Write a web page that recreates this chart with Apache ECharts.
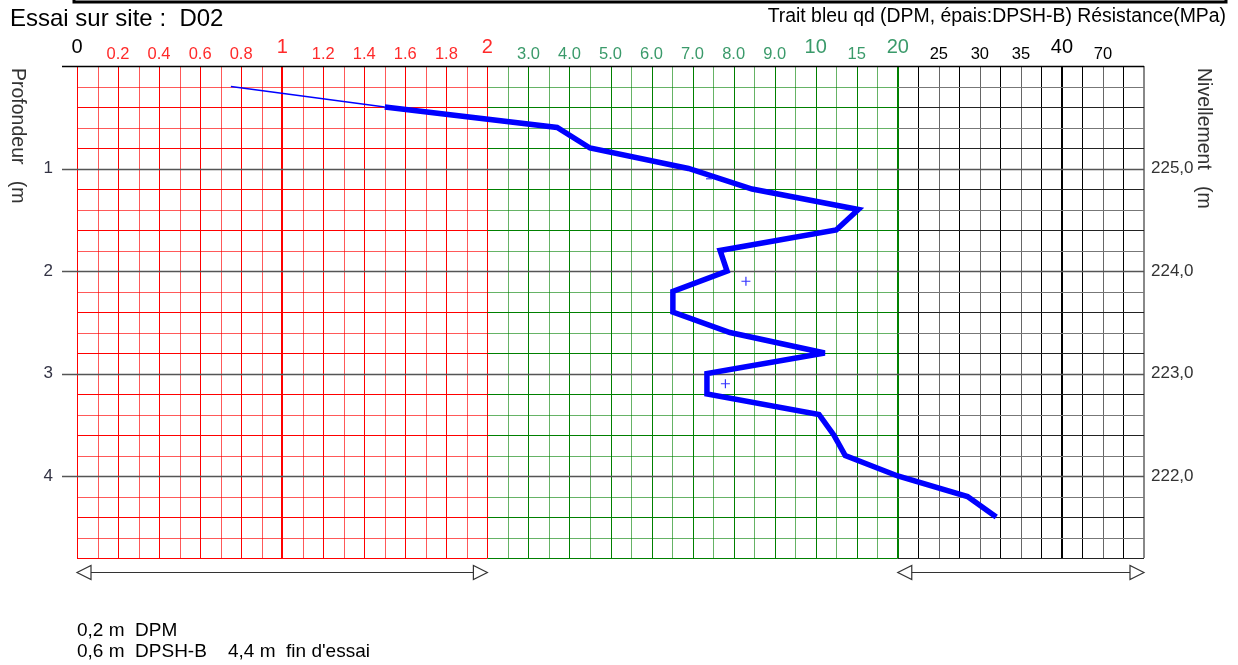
<!DOCTYPE html>
<html><head><meta charset="utf-8">
<script src="https://cdn.jsdelivr.net/npm/echarts@6/dist/echarts.min.js"></script>
<style>html,body{margin:0;padding:0;background:#fff}#c{width:1238px;height:665px}</style>
</head><body><div id="c"></div>
<script>
// ---------- DATA ----------
const depths = [0.2,0.4,0.6,0.8,1.0,1.2,1.4,1.6,1.8,2.0,2.2,2.4,2.6,2.8,3.0,3.2,3.4,3.6,3.8,4.0,4.2,4.4];
const resistance = [0.75,1.5,3.7,4.5,6.9,8.45,15.2,12.5,7.67,7.84,6.52,6.52,7.91,11.1,7.35,7.35,10.4,12.2,13.6,20,28.5,32];
const dpmEndDepth = 0.4;           // thin line (DPM) up to this depth
const markDepths = [1.1, 2.1, 3.1];
const markValues = [7.4, 8.3, 7.8];
const markKinds = ['-', '+', '+'];
const tickValues = [0,0.2,0.4,0.6,0.8,1,1.2,1.4,1.6,1.8,2,3,4,5,6,7,8,9,10,15,20,25,30,35,40,70];
const tickLabels = ['0','0.2','0.4','0.6','0.8','1','1.2','1.4','1.6','1.8','2','3.0','4.0','5.0','6.0','7.0','8.0','9.0','10','15','20','25','30','35','40','70'];
const majorLabels = ['0','1','2','10','20','40'];
const depthTicks = [1,2,3,4];
const groundLevel = 226.0;
const titleText = 'Essai sur site :  D02';
const legendText = 'Trait bleu qd (DPM, épais:DPSH-B) Résistance(MPa)';
const noteLines = ['0,2 m  DPM', '0,6 m  DPSH-B    4,4 m  fin d\'essai'];

// ---------- SCALE (piecewise penetrometer scale -> grid cell units) ----------
function u(v){
  if (v <= 2) return v*10;
  if (v <= 10) return 20 + (v-2)*2;
  if (v <= 20) return 36 + (v-10)/5*2;
  if (v <= 40) return 40 + (v-20)/5*2;
  return 48 + (v-40)/30*2;
}
const UMAX = 52, DMAX = 4.8;
const FONT = '"Liberation Sans", Arial, sans-serif';

function labelAt(val){
  for (let i=0;i<tickValues.length;i++) if (Math.abs(u(tickValues[i])-val) < 1e-6) return tickLabels[i];
  return '';
}
function labelColor(val){
  if (val < 0.5) return '#000';
  if (val <= 20.01) return '#ff2a2a';
  if (val <= 40.01) return '#3a9a6a';
  return '#000';
}

const thinData = [], thickData = [];
depths.forEach((d,i)=>{
  if (d <= dpmEndDepth + 1e-9) thinData.push([u(resistance[i]), d]);
  if (d >= dpmEndDepth - 1e-9) thickData.push([u(resistance[i]), d]);
});
const plusData = [], dashData = [];
markDepths.forEach((d,i)=>{
  (markKinds[i]==='+' ? plusData : dashData).push([u(markValues[i]), d]);
});

function crisp(x, w){ return (w % 2 === 1) ? Math.round(x) + 0.5 : Math.round(x); }

function gridRender(params, api){
  const ch = [];
  const X = (uu)=>api.coord([uu,0])[0];
  const Y = (d)=>api.coord([0,d])[1];
  const y0 = Y(0), y1 = Y(DMAX), x0 = X(0), x1 = X(UMAX);
  function L(xa,ya,xb,yb,color,w){
    ch.push({type:'line', shape:{x1:xa,y1:ya,x2:xb,y2:yb}, style:{stroke:color, lineWidth:w}});
  }
  // verticals
  for (let k=0;k<=UMAX;k++){
    let color, w = 1;
    const alt = k % 2 === 1;
    if (k <= 20) color = alt ? 'rgba(255,0,0,0.65)' : '#ff0000';
    else if (k < 40) color = alt ? 'rgba(0,128,0,0.6)' : '#008000';
    else if (k === 40) { color = '#008000'; w = 2; }
    else color = alt ? '#000' : '#666';
    if (k === 10) w = 2;
    if (k === 48) { color = '#000'; w = 2; }
    if (k === UMAX) { color = '#888'; w = 2; }
    const x = crisp(X(k), w);
    L(x, y0, x, y1, color, w);
  }
  // horizontals per region
  const nRows = Math.round(DMAX/0.2);
  for (let r=1;r<=nRows;r++){
    const d = r*0.2;
    const y = crisp(Y(d), 1);
    const alt = r % 2 === 1;
    if (r % 5 === 0 && r < nRows) continue;
    L(x0, y, X(20), y, alt ? 'rgba(255,0,0,0.65)' : '#ff0000', 1);
    L(X(20), y, X(40), y, alt ? 'rgba(0,128,0,0.6)' : '#008000', 1);
    L(X(40), y, x1, y, alt ? '#777' : '#222', 1);
  }
  // integer depth lines (with left tick)
  depthTicks.forEach(d=>{
    const y = crisp(Y(d), 1);
    L(x0-15, y, x1, y, '#555', 1.3);
  });
  // top border
  L(x0-15, crisp(y0,1), x1, crisp(y0,1), '#000', 1.3);
  // double arrows below
  const ay = Math.round(y1 + 14) + 0.5;
  function arrow(xa, xb){
    L(xa, ay, xb, ay, '#333', 1.2);
    ch.push({type:'polygon', shape:{points:[[xa,ay],[xa+14,ay-7],[xa+14,ay+7]]}, style:{fill:'#fff', stroke:'#333', lineWidth:1.2}});
    ch.push({type:'polygon', shape:{points:[[xb,ay],[xb-14,ay-7],[xb-14,ay+7]]}, style:{fill:'#fff', stroke:'#333', lineWidth:1.2}});
  }
  arrow(X(u(0)), X(u(2)));
  arrow(X(u(20)), X(UMAX));
  return {type:'group', children: ch};
}

const chart = echarts.init(document.getElementById('c'), null, {renderer:'canvas'});
const topAxisBase = {
  type:'value', position:'top', min:0, max:UMAX, interval:2,
  axisLine:{show:false}, axisTick:{show:false}, splitLine:{show:false}
};
chart.setOption({
  animation:false,
  backgroundColor:'#fff',
  grid:{left:77, top:66, width:1067, height:492, containLabel:false, show:false},
  xAxis:[
    Object.assign({}, topAxisBase, {axisLabel:{show:true, margin:3, fontSize:16.5, fontFamily:FONT,
      showMinLabel:true, showMaxLabel:true, color:(v)=>labelColor(v),
      formatter:(v)=>{const l = labelAt(v); return (l && majorLabels.indexOf(l) < 0) ? l : '';}}}),
    Object.assign({}, topAxisBase, {axisLabel:{show:true, margin:9, fontSize:20, fontFamily:FONT,
      showMinLabel:true, showMaxLabel:true, color:(v)=>labelColor(v),
      formatter:(v)=>{const l = labelAt(v); return (l && majorLabels.indexOf(l) >= 0) ? l : '';}}})
  ],
  yAxis:[
    {type:'value', inverse:true, min:0, max:DMAX, interval:1, position:'left',
      axisLine:{show:false}, axisTick:{show:false}, splitLine:{show:false},
      axisLabel:{margin:24, fontSize:17, fontFamily:FONT, color:'#334', showMaxLabel:false,
        formatter:(v)=> depthTicks.indexOf(v) >= 0 ? String(v) : ''}},
    {type:'value', inverse:true, min:0, max:DMAX, interval:1, position:'right',
      axisLine:{show:false}, axisTick:{show:false}, splitLine:{show:false},
      axisLabel:{margin:7, fontSize:17, fontFamily:FONT, color:'#333', showMaxLabel:false,
        formatter:(v)=> depthTicks.indexOf(v) >= 0 ? (groundLevel - v).toFixed(1).replace('.', ',') : ''}}
  ],
  series:[
    {type:'custom', renderItem:gridRender, data:[[0,0]], silent:true, z:1, clip:false},
    {type:'line', data:thinData, symbol:'none', z:3, lineStyle:{color:'#0000ff', width:1.6}},
    {type:'line', data:thickData, symbol:'none', z:3, lineStyle:{color:'#0000ff', width:5.5, join:'miter', miterLimit:4}},
    {type:'scatter', data:plusData, z:4, symbol:'path://M0,5L10,5M5,0L5,10', symbolSize:9,
      itemStyle:{color:'none', borderColor:'#0000ff', borderWidth:1.2}},
    {type:'scatter', data:dashData, z:4, symbol:'rect', symbolSize:[6,1.5], itemStyle:{color:'#3030ff'}}
  ],
  graphic:[
    {type:'rect', shape:{x:74, y:-6, width:1152, height:8}, style:{fill:'none', stroke:'#000', lineWidth:3}},
    {type:'text', x:10, y:19, style:{text:titleText, font:'24px '+FONT, fill:'#000', verticalAlign:'middle'}},
    {type:'text', x:1226, y:17, style:{text:legendText, font:'19.4px '+FONT, fill:'#000', align:'right', verticalAlign:'middle'}},
    {type:'text', x:17, y:68, rotation:-Math.PI/2, style:{text:'Profondeur   (m', font:'19.5px '+FONT, fill:'#333', align:'left', verticalAlign:'middle'}},
    {type:'text', x:1203, y:68, rotation:-Math.PI/2, style:{text:'Nivellement   (m', font:'19.5px '+FONT, fill:'#333', align:'left', verticalAlign:'middle'}},
    {type:'text', x:77, y:631, style:{text:noteLines[0], font:'19px '+FONT, fill:'#000', verticalAlign:'middle'}},
    {type:'text', x:77, y:652, style:{text:noteLines[1], font:'19px '+FONT, fill:'#000', verticalAlign:'middle'}}
  ]
});
</script></body></html>
